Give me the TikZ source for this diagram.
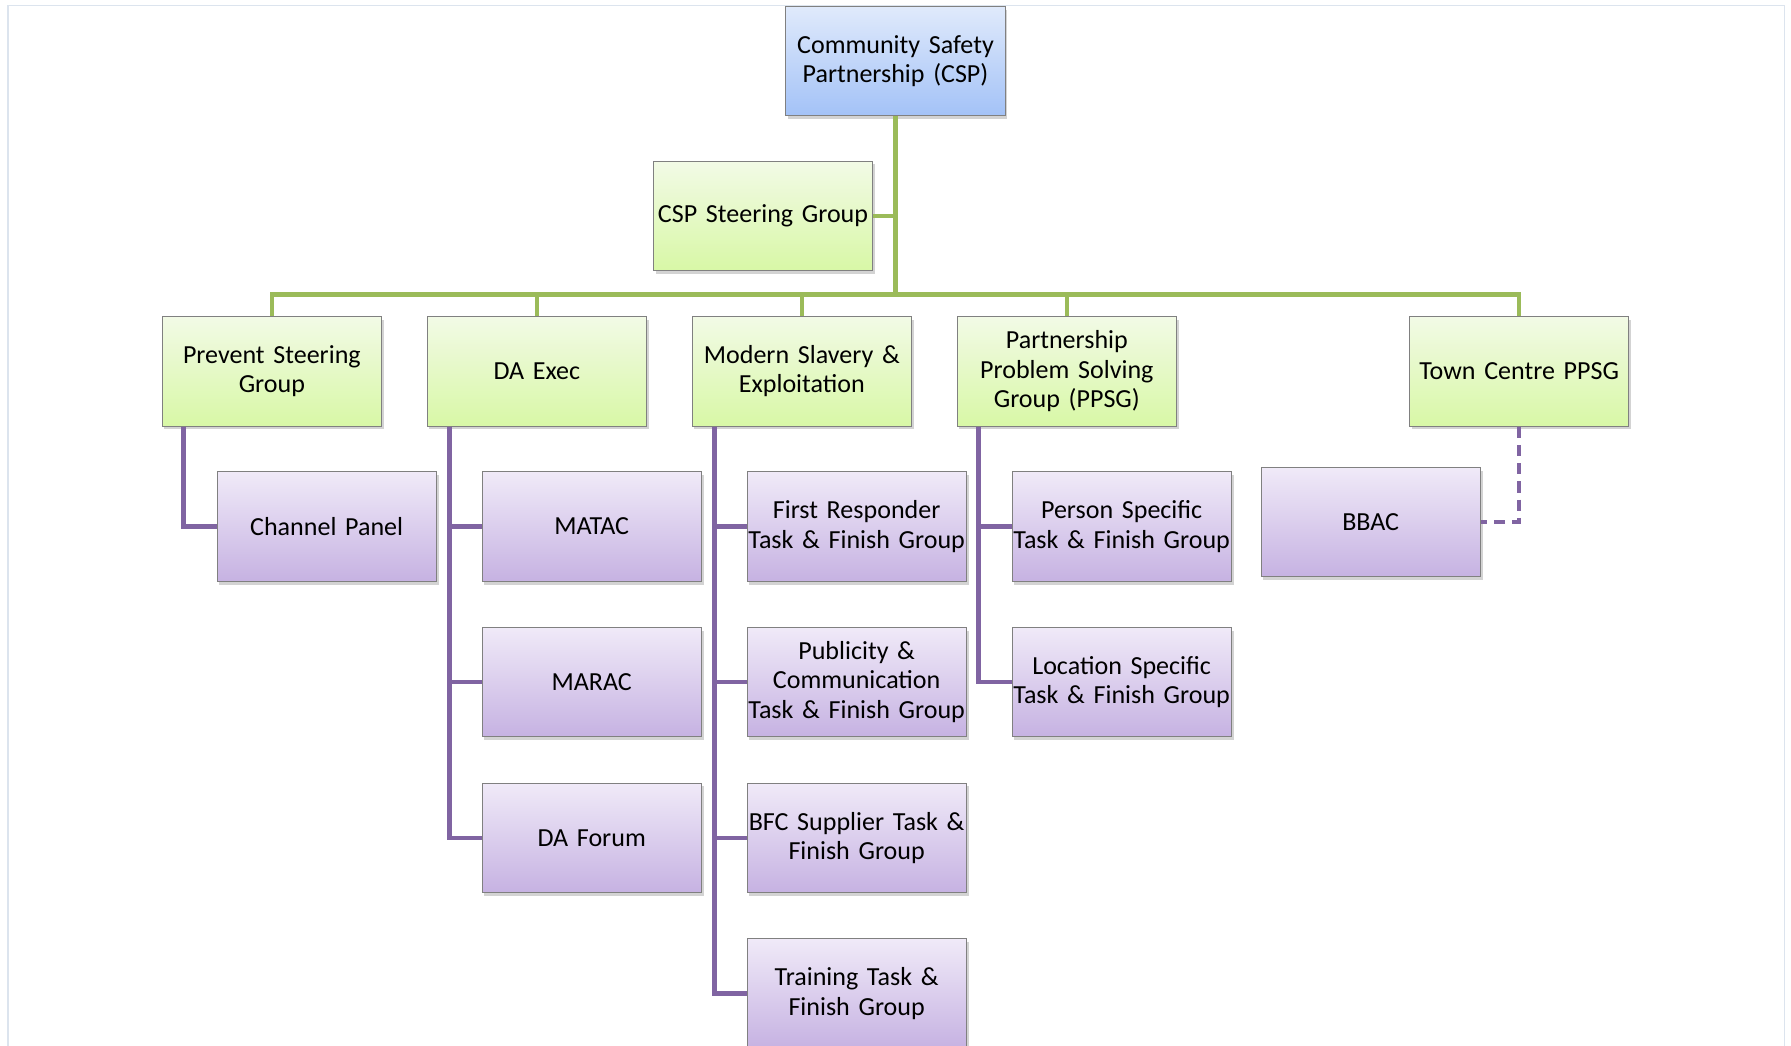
\documentclass[tikz,border=0pt]{standalone}
\usepackage{fontspec}
\setmainfont{Carlito}
\usetikzlibrary{shadows}
\definecolor{gline}{HTML}{9BBB59}
\definecolor{pline}{HTML}{8064A2}
\definecolor{gtop}{HTML}{F2FAE6}
\definecolor{gbot}{HTML}{D8F8A6}
\definecolor{btop}{HTML}{E0EAFB}
\definecolor{bbot}{HTML}{A3C2F7}
\definecolor{ptop}{HTML}{F0EAF8}
\definecolor{pbot}{HTML}{C6B2E2}
\definecolor{frame}{HTML}{DCE4EE}
\begin{document}
\begin{tikzpicture}[x=1pt,y=-1pt,
  box/.style={draw=black!50, line width=0.8pt, minimum width=192pt, minimum height=96pt,
    inner sep=0pt, text width=192pt, align=center,
    font=\fontsize{22.8}{25.8}\selectfont,
    drop shadow={opacity=0.35, shadow xshift=2pt, shadow yshift=-3pt}},
  gbox/.style={box, top color=gtop, bottom color=gbot},
  bbox/.style={box, top color=btop, bottom color=bbot},
  pbox/.style={box, top color=ptop, bottom color=pbot},
  gcon/.style={draw=gline, line width=4pt},
  pcon/.style={draw=pline, line width=4pt},
  pdash/.style={pcon, dash pattern=on 10pt off 6pt}]
\useasboundingbox (0,0) rectangle (1568,915);
\draw[frame, line width=1pt] (7,5) rectangle (1562,940);
% nodes
\node[bbox] (csp) at (784,53.5) {Community Safety\\Partnership (CSP)};
\node[gbox] (steer) at (668,189) {CSP Steering Group};
\node[gbox] (prev) at (238,325) {Prevent Steering\\Group};
\node[gbox] (daex) at (470,325) {DA Exec};
\node[gbox] (mse) at (702,325) {Modern Slavery \&\\Exploitation};
\node[gbox] (ppsg) at (934,325) {Partnership\\Problem Solving\\Group (PPSG)};
\node[gbox] (town) at (1330,325) {Town Centre PPSG};
\node[pbox] (chan) at (286,461) {Channel Panel};
\node[pbox] (matac) at (518,461) {MATAC};
\node[pbox] (marac) at (518,597) {MARAC};
\node[pbox] (daf) at (518,733.5) {DA Forum};
\node[pbox] (first) at (750,461) {First Responder\\Task \& Finish Group};
\node[pbox] (pub) at (750,597) {Publicity \&\\Communication\\Task \& Finish Group};
\node[pbox] (bfc) at (750,733.5) {BFC Supplier Task \&\\Finish Group};
\node[pbox] (train) at (750,870) {Training Task \&\\Finish Group};
\node[pbox] (pers) at (982,461) {Person Specific\\Task \& Finish Group};
\node[pbox] (loc) at (982,597) {Location Specific\\Task \& Finish Group};
\node[pbox] (bbac) at (1200,457) {BBAC};
\coordinate (bus) at (784,258);
% green connectors
\draw[gcon] (csp.south) -- (bus);
\draw[gcon] (steer.east) -- (steer.east -| csp.south);
\foreach \n in {prev,daex,mse,ppsg,town}
  \draw[gcon] (\n.north) |- (bus);
% purple connectors
\draw[pcon] ([xshift=19pt]prev.south west) |- (chan.west);
\foreach \c in {matac,marac,daf}
  \draw[pcon] ([xshift=20pt]daex.south west) |- (\c.west);
\foreach \c in {first,pub,bfc,train}
  \draw[pcon] ([xshift=20pt]mse.south west) |- (\c.west);
\foreach \c in {pers,loc}
  \draw[pcon] ([xshift=19pt]ppsg.south west) |- (\c.west);
\draw[pdash] (town.south) |- (bbac.east);
\end{tikzpicture}
\end{document}
